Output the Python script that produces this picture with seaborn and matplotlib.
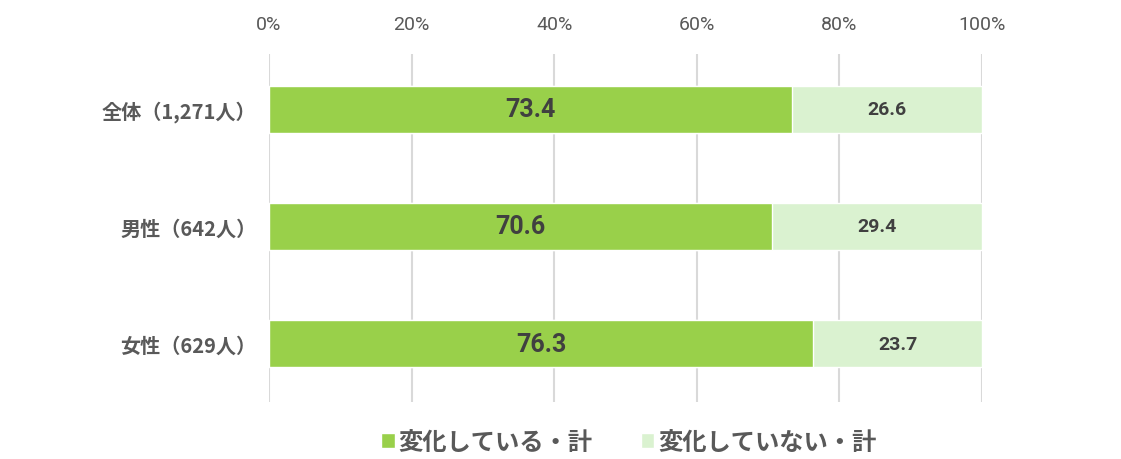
import matplotlib
matplotlib.use("Agg")
import matplotlib.pyplot as plt
import seaborn as sns
import numpy as np
import pandas as pd
from matplotlib.patches import Patch

categories = ["全体（1,271人）", "男性（642人）", "女性（629人）"]
changed = [73.4, 70.6, 76.3]
not_changed = [26.6, 29.4, 23.7]
series_names = ["変化している・計", "変化していない・計"]
tick_labels = ["0%", "20%", "40%", "60%", "80%", "100%"]

sns.set_theme(style="white")
plt.rcParams['font.family'] = ['Noto Sans CJK JP', 'DejaVu Sans']

GREEN = "#99D04A"
LIGHT = "#DAF2D0"
TXT = "#595959"

fig = plt.figure(figsize=(11.21, 4.6), dpi=100)
ax = fig.add_axes([0.24, 0.1235, 0.636, 0.757])

df = pd.DataFrame({"cat": categories, "changed": changed, "not_changed": not_changed})
df["total"] = df["changed"] + df["not_changed"]

sns.barplot(data=df, x="total", y="cat", color=LIGHT, width=0.40, ax=ax,
            orient="h", saturation=1)
sns.barplot(data=df, x="changed", y="cat", color=GREEN, width=0.40, ax=ax,
            orient="h", saturation=1)
if ax.get_legend() is not None:
    ax.get_legend().remove()

for i, (a, b) in enumerate(zip(changed, not_changed)):
    ax.text(a / 2, i, f"{a:.1f}", ha="center", va="center", fontsize=18,
            fontweight="bold", color="#404040", family=['Roboto', 'DejaVu Sans'])
    ax.text(a + b / 2, i, f"{b:.1f}", ha="center", va="center", fontsize=14,
            fontweight="bold", color="#404040", family=['Roboto', 'DejaVu Sans'])

ax.set_xlim(0, 100)
ax.set_ylim(2.5, -0.47)
ax.set_xticks(np.linspace(0, 100, 6))
ax.set_xticklabels(tick_labels, fontsize=14, color=TXT, family=['Roboto', 'DejaVu Sans'])
ax.xaxis.tick_top()
ax.tick_params(axis="x", length=0, pad=15)
ax.tick_params(axis="y", length=0, pad=9)
for lab in ax.get_yticklabels():
    lab.set_fontsize(14.5)
    lab.set_fontweight("bold")
    lab.set_color(TXT)
ax.set_xlabel("")
ax.set_ylabel("")
ax.grid(axis="x", color="#D9D9D9", linewidth=1.5)
ax.set_axisbelow(True)
for s in ax.spines.values():
    s.set_visible(False)

h = [Patch(facecolor=GREEN), Patch(facecolor=LIGHT)]
leg = fig.legend(h, series_names, loc="center", bbox_to_anchor=(0.561, 0.037), ncol=2,
                 frameon=False, fontsize=17.5, handlelength=0.55, handleheight=0.55,
                 handletextpad=0.15, columnspacing=2.0)
for t in leg.get_texts():
    t.set_color(TXT)
    t.set_fontweight("bold")

fig.savefig("out.png", dpi=100)
